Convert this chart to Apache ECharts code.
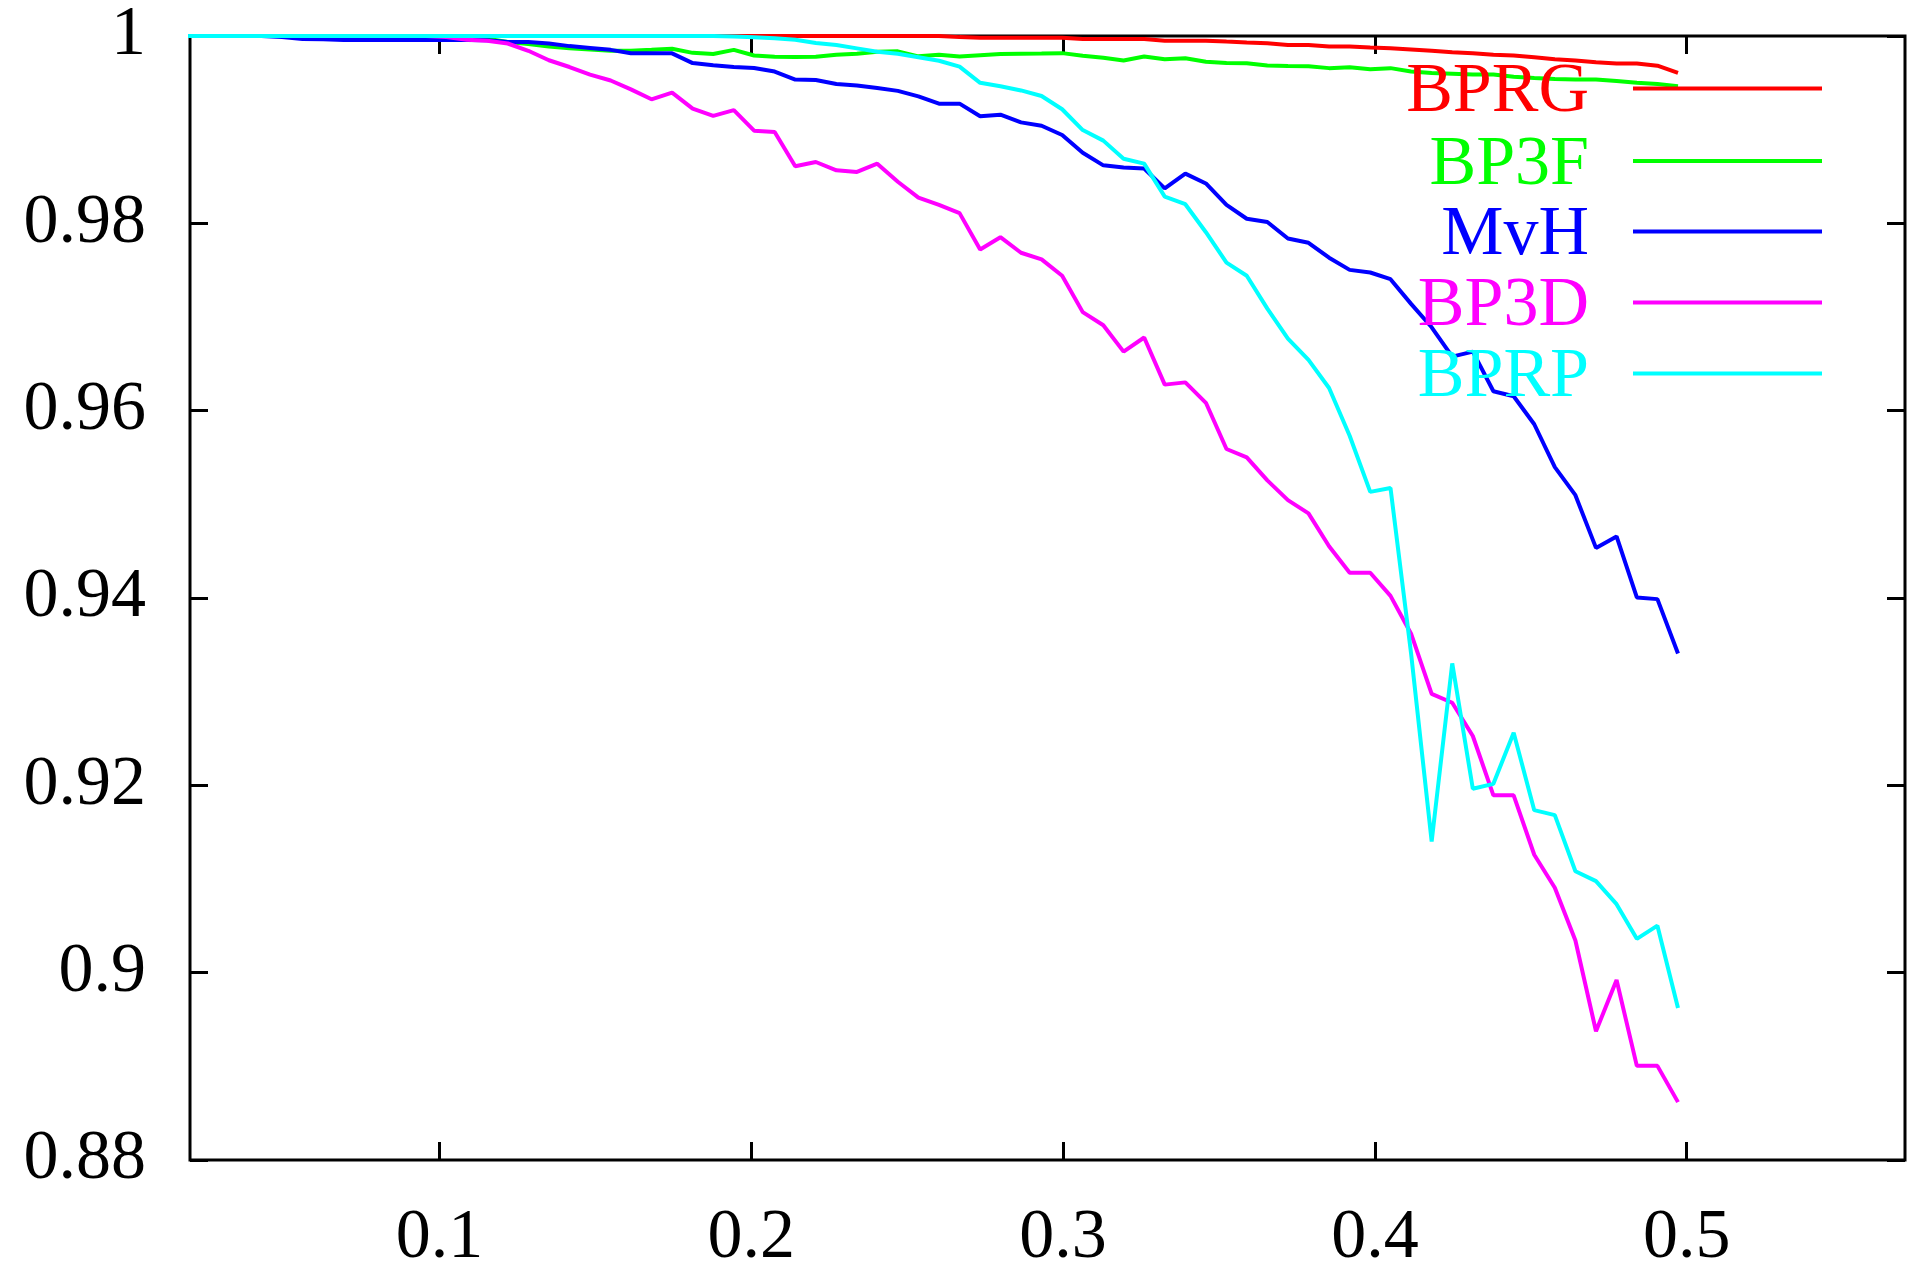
<!DOCTYPE html>
<html><head><meta charset="utf-8">
<script src="https://cdn.jsdelivr.net/npm/echarts@6/dist/echarts.min.js"></script>
<style>html,body{margin:0;padding:0;background:#fff}#c{width:1909px;height:1274px}</style>
</head><body><div id="c"></div>
<script>
// ---- data ----
const xValues = [0.0166,0.0232,0.0298,0.0364,0.0429,0.0495,0.0561,0.0627,0.0693,0.0758,
  0.0824,0.0890,0.0956,0.1022,0.1088,0.1153,0.1219,0.1285,0.1351,0.1417,
  0.1483,0.1549,0.1614,0.1680,0.1746,0.1812,0.1878,0.1944,0.2009,0.2075,
  0.2141,0.2207,0.2273,0.2339,0.2404,0.2470,0.2536,0.2602,0.2668,0.2734,
  0.2799,0.2865,0.2931,0.2997,0.3063,0.3129,0.3194,0.3260,0.3326,0.3392,
  0.3458,0.3524,0.3589,0.3655,0.3721,0.3787,0.3853,0.3919,0.3985,0.4050,
  0.4116,0.4182,0.4248,0.4314,0.4380,0.4445,0.4511,0.4577,0.4643,0.4709,
  0.4775,0.4840,0.4906,0.4972];

const seriesNames = ['BPRG','BP3F','MvH','BP3D','BPRP'];

const bprg = [1,1,1,1,1,1,1,1,1,1,
  1,1,1,1,1,1,1,1,1,1,
  1,1,1,1,1,1,1,1,1,1,
  1,1,1,1,1,1,1,1,0.99988,0.99982,
  0.99982,0.99982,0.99982,0.99982,0.99968,0.99968,0.99968,0.99968,0.9995,0.9995,
  0.9995,0.9994,0.99931,0.99923,0.99905,0.99905,0.99887,0.99887,0.99876,0.99868,
  0.99857,0.99842,0.99826,0.99817,0.99799,0.99792,0.99773,0.99752,0.99739,0.9972,
  0.99707,0.99707,0.99683,0.99606];

const bp3f = [1,1,1,1,1,1,1,1,1,1,
  1,1,1,1,1,0.9997,0.99937,0.99915,0.99887,0.9987,
  0.99855,0.99842,0.99842,0.99852,0.99863,0.9982,0.99807,0.99852,0.99792,0.99778,
  0.99775,0.99778,0.99799,0.9981,0.99831,0.99836,0.99783,0.99799,0.99781,0.99794,
  0.99807,0.9981,0.99813,0.99817,0.99789,0.99768,0.99739,0.99781,0.99752,0.99762,
  0.99725,0.99711,0.99709,0.99685,0.9968,0.99676,0.99657,0.99667,0.99646,0.99657,
  0.9962,0.99604,0.99596,0.99588,0.99588,0.99564,0.99551,0.99542,0.99535,0.99535,
  0.99519,0.995,0.99488,0.99464];

const mvh = [1,1,1,1,1,0.9999,0.99968,0.99965,0.99958,0.99958,
  0.99958,0.99958,0.99958,0.99958,0.99958,0.99955,0.99937,0.99935,0.99921,0.99892,
  0.99873,0.99852,0.99815,0.99815,0.99815,0.99711,0.99688,0.99669,0.99659,0.9962,
  0.99535,0.9953,0.99488,0.99472,0.99445,0.99414,0.99356,0.99278,0.99278,0.99144,
  0.9916,0.99078,0.99042,0.98943,0.98753,0.98619,0.98595,0.98585,0.98373,0.98531,
  0.98426,0.98197,0.98049,0.98014,0.97838,0.97792,0.97633,0.97503,0.97475,0.97404,
  0.9714,0.9689,0.96577,0.9663,0.96207,0.96154,0.95855,0.95397,0.95098,0.94535,
  0.94657,0.94006,0.93988,0.93407];

const bp3d = [1,1,1,1,1,1,1,1,1,1,
  1,1,1,0.9999,0.9996,0.9995,0.9992,0.99842,0.99741,0.99669,
  0.99588,0.99525,0.9943,0.99324,0.99395,0.99225,0.99147,0.99208,0.98989,0.98975,
  0.98609,0.98655,0.98566,0.98549,0.98637,0.98444,0.98275,0.98197,0.98109,0.97721,
  0.97852,0.97686,0.97615,0.9744,0.97052,0.96912,0.9663,0.96781,0.96278,0.96302,
  0.96084,0.95591,0.95502,0.95256,0.95045,0.94904,0.94552,0.9427,0.9427,0.94023,
  0.93619,0.92976,0.92882,0.92527,0.91893,0.91893,0.91259,0.90907,0.90343,0.89375,
  0.89921,0.89005,0.89005,0.88618];

const bprp = [1,1,1,1,1,1,1,1,1,1,
  1,1,1,1,1,1,1,1,1,1,
  1,1,1,1,1,1,1,0.99995,0.99987,0.99977,
  0.99961,0.99926,0.99903,0.99868,0.99831,0.9981,0.99773,0.99736,0.99673,0.995,
  0.99464,0.99419,0.99359,0.99218,0.98996,0.98883,0.9869,0.98637,0.98285,0.98204,
  0.97905,0.97581,0.9744,0.9709,0.9677,0.96542,0.96242,0.95732,0.95133,0.95175,
  0.93407,0.914,0.93302,0.91963,0.92016,0.92562,0.91735,0.91682,0.91083,0.90977,
  0.90731,0.90361,0.90502,0.89622];

const xTickValues = [0.1, 0.2, 0.3, 0.4, 0.5];

// ---- styling ----
const colors = ['#ff0000','#00ff00','#0000ff','#ff00ff','#00ffff'];
const FONT = 'Liberation Serif';
const FS = 70;
const legendTops = [58, 130.5, 201, 272, 343];
// legend sample: a 4px bar at the top of a 14px-high icon box (text sits a little lower)
const legendIcon = 'path://M0,0L189,0L189,4L0,4Z M0,13L0.1,13L0.1,13.1L0,13.1Z';
const seriesData = [bprg, bp3f, mvh, bp3d, bprp];

const chart = echarts.init(document.getElementById('c'), null, {renderer: 'canvas'});

const tickStyle = {inside: true, length: 18, lineStyle: {color: '#000', width: 3}};

const option = {
  backgroundColor: '#fff',
  animation: false,
  grid: {left: 190, top: 36, width: 1715, height: 1136, show: true,
         borderColor: '#000', borderWidth: 3, backgroundColor: 'transparent'},
  xAxis: [
    {type: 'value', min: 0.02, max: 0.57, position: 'bottom',
     axisLine: {show: false}, splitLine: {show: false},
     axisTick: Object.assign({customValues: xTickValues}, tickStyle),
     axisLabel: {customValues: xTickValues, formatter: v => v.toFixed(1),
       fontFamily: FONT, fontSize: FS, color: '#000', margin: 44}},
    {type: 'value', min: 0.02, max: 0.57, position: 'top',
     axisLine: {show: false}, splitLine: {show: false},
     axisTick: Object.assign({customValues: xTickValues}, tickStyle),
     axisLabel: {show: false}}
  ],
  yAxis: [
    {type: 'value', min: 0.88, max: 1, interval: 0.02, position: 'left',
     axisLine: {show: false}, splitLine: {show: false},
     axisTick: tickStyle,
     axisLabel: {formatter: v => String(parseFloat(v.toFixed(2))),
       fontFamily: FONT, fontSize: FS, color: '#000', margin: 44}},
    {type: 'value', min: 0.88, max: 1, interval: 0.02, position: 'right',
     axisLine: {show: false}, splitLine: {show: false},
     axisTick: tickStyle, axisLabel: {show: false}}
  ],
  legend: seriesNames.map((n, i) => ({
    data: [n], right: 87, top: legendTops[i], orient: 'horizontal', align: 'right',
    icon: legendIcon, itemWidth: 189, itemHeight: 14, padding: 0, itemGap: 0,
    selectedMode: false,
    textStyle: {color: colors[i], fontFamily: FONT, fontSize: FS, padding: [0, 39, 0, 0]}
  })),
  series: seriesNames.map((n, i) => ({
    name: n, type: 'line', color: colors[i], showSymbol: false, symbol: 'none',
    clip: true, xAxisIndex: 0, yAxisIndex: 0,
    lineStyle: {width: 4, color: colors[i]},
    emphasis: {disabled: true},
    data: xValues.map((x, j) => [x, seriesData[i][j]])
  }))
};
chart.setOption(option);
</script></body></html>
